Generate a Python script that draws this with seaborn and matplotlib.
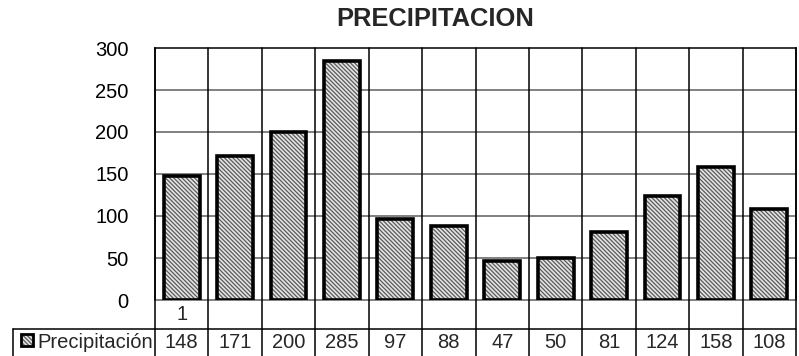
import matplotlib
matplotlib.use("Agg")
import matplotlib.pyplot as plt
import matplotlib.transforms as mtransforms
from matplotlib.patches import Rectangle
from matplotlib.lines import Line2D
import seaborn as sns
import pandas as pd

# Monthly precipitation
months = list(range(1, 13))
category_labels = ["1"] + [""] * 11
series_name = "Precipitación"
precip = [148, 171, 200, 285, 97, 88, 47, 50, 81, 124, 158, 108]
y_ticks = [0, 50, 100, 150, 200, 250, 300]

sns.set_theme(style="white")
plt.rcParams["font.family"] = ["Liberation Sans", "DejaVu Sans"]
plt.rcParams["hatch.linewidth"] = 0.9

W, H = 799, 356
fig = plt.figure(figsize=(W / 100, H / 100), dpi=100)

# plot area in pixels (left, top, right, bottom)
L, T, R, B = 155, 48, 796, 300
ax = fig.add_axes([L / W, 1 - B / H, (R - L) / W, (B - T) / H])

HATCH = "\\" * 8
FACE = "#e4e4e4"
STRIPE = "#5a5a5a"

df = pd.DataFrame({"mes": months, "valor": precip})
sns.barplot(data=df, x="mes", y="valor", color=FACE, saturation=1,
            width=0.67, ax=ax, zorder=3)

# hatch and heavy outline for each bar
for p in list(ax.patches):
    p.set_hatch(HATCH)
    p.set_edgecolor(STRIPE)
    p.set_linewidth(0)
    ax.add_patch(Rectangle(p.get_xy(), p.get_width(), p.get_height(),
                           fill=False, edgecolor="black", linewidth=2.6,
                           zorder=4, joinstyle="miter"))

ax.set_xlim(-0.5, len(months) - 0.5)
ax.set_ylim(0, 300)
ax.set_yticks(y_ticks)
ax.set_yticklabels([str(t) for t in y_ticks], fontsize=14.5, color="black")
ax.tick_params(axis="y", length=0, pad=19)
ax.set_xticks([])
ax.set_xlabel("")
ax.set_ylabel("")

for t in y_ticks[1:-1]:
    ax.axhline(t, color="#5e5e5e", linewidth=1.1, zorder=1)
for side in ["top", "left", "right"]:
    ax.spines[side].set_color("black")
    ax.spines[side].set_linewidth(1.1)
ax.spines["bottom"].set_color("#5e5e5e")
ax.spines["bottom"].set_linewidth(1.1)

# data table underneath
blend = mtransforms.blended_transform_factory(ax.transData, fig.transFigure)
def fy(py):
    return 1 - py / H

row_top = 329
for i in range(len(months) + 1):
    fig.add_artist(Line2D([i - 0.5, i - 0.5], [fy(T), fy(H + 2)], transform=blend,
                          color="black", linewidth=1.1, clip_on=False))
fig.add_artist(Line2D([13 / W, R / W], [fy(row_top), fy(row_top)],
                      transform=fig.transFigure, color="black", linewidth=1.1))
fig.add_artist(Line2D([13 / W, 13 / W], [fy(row_top), fy(H + 2)],
                      transform=fig.transFigure, color="black", linewidth=1.1))

for i, lab in enumerate(category_labels):
    if lab:
        fig.text(i, fy(315), lab, transform=blend, ha="center", va="center",
                 fontsize=14.5)
for i, v in enumerate(precip):
    fig.text(i, fy(343), str(v), transform=blend, ha="center", va="center",
             fontsize=14.5)

# legend key in the table
fig.add_artist(Rectangle((21 / W, fy(346)), 12 / W, 12 / H,
                         transform=fig.transFigure, facecolor=FACE,
                         edgecolor=STRIPE, hatch=HATCH, linewidth=0))
fig.add_artist(Rectangle((21 / W, fy(346)), 12 / W, 12 / H,
                         transform=fig.transFigure, fill=False,
                         edgecolor="black", linewidth=2))
fig.text(37 / W, fy(343), series_name, ha="left", va="center", fontsize=14.5)

fig.text(435 / W, fy(19), "PRECIPITACION", ha="center", va="center",
         fontsize=18.4, fontweight="bold")

fig.savefig("out.png", dpi=100)
